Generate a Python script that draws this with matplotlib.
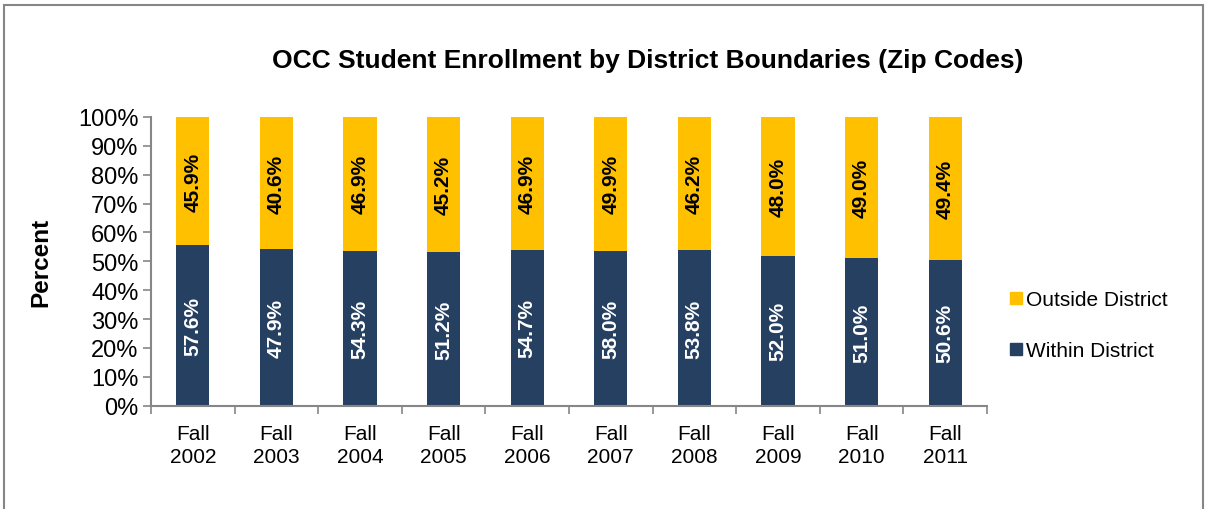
import matplotlib
matplotlib.use("Agg")
import matplotlib.pyplot as plt
import numpy as np
from matplotlib.patches import Rectangle
from matplotlib.lines import Line2D

plt.rcParams['font.family'] = ['Liberation Sans', 'DejaVu Sans']

categories = ["Fall\n2002", "Fall\n2003", "Fall\n2004", "Fall\n2005", "Fall\n2006",
              "Fall\n2007", "Fall\n2008", "Fall\n2009", "Fall\n2010", "Fall\n2011"]
within = [57.6, 47.9, 54.3, 51.2, 54.7, 58.0, 53.8, 52.0, 51.0, 50.6]
outside = [45.9, 40.6, 46.9, 45.2, 46.9, 49.9, 46.2, 48.0, 49.0, 49.4]
yticks = [0, 10, 20, 30, 40, 50, 60, 70, 80, 90, 100]

navy = '#264061'
gold = '#FFC000'
gray = '#868686'

fig = plt.figure(figsize=(12.05, 5.1), dpi=100)
ax = fig.add_axes([151/1205, 1 - 406.7/510, (987-151)/1205, (406.7-118)/510])

w = np.array(within)
o = np.array(outside)
tot = w + o
wp = w / tot * 100
op = o / tot * 100
x = np.arange(len(categories))
bw = 0.395
ax.bar(x, wp, bw, color=navy, label='Within District', zorder=2)
ax.bar(x, op, bw, bottom=wp, color=gold, label='Outside District', zorder=2)

for i in range(len(x)):
    ax.text(x[i], wp[i] / 2, f"{within[i]:.1f}%", rotation=90, ha='center', va='center',
            color='white', fontsize=15, fontweight='bold', zorder=3)
    ax.text(x[i], wp[i] + op[i] / 2, f"{outside[i]:.1f}%", rotation=90, ha='center', va='center',
            color='black', fontsize=15, fontweight='bold', zorder=3)

ax.set_xlim(-0.5, len(x) - 0.5)
ax.set_ylim(0, 100)
ax.set_yticks(yticks)
ax.set_yticklabels([f"{t}%" for t in yticks], fontsize=17)
ax.set_xticks(x)
ax.set_xticklabels(categories, fontsize=15, linespacing=1.25)
ax.set_xticks(np.arange(-0.5, len(x), 1.0), minor=True)
ax.tick_params(axis='x', which='major', length=0, pad=13)
ax.tick_params(axis='x', which='minor', length=6, width=1.2, color=gray, direction='out')
ax.tick_params(axis='y', which='major', length=6, width=1.2, color=gray, direction='out', pad=3)
for s in ['top', 'right']:
    ax.spines[s].set_visible(False)
for s in ['left', 'bottom']:
    ax.spines[s].set_color(gray)
    ax.spines[s].set_linewidth(1.5)

ax.set_ylabel("Percent", fontsize=17.5, fontweight='bold')
ax.yaxis.set_label_coords((52 - 151) / 836, 0.5)

fig.text(648/1205, 1 - 61/510, "OCC Student Enrollment by District Boundaries (Zip Codes)",
         ha='center', va='center', fontsize=19, fontweight='bold')

handles = [Line2D([], [], marker='s', linestyle='none', markersize=9, color=gold),
           Line2D([], [], marker='s', linestyle='none', markersize=9, color=navy)]
fig.legend(handles, ['Outside District', 'Within District'], loc='center left',
           bbox_to_anchor=(991/1205, 1 - 326/510), frameon=False, fontsize=15,
           handlelength=0.6, handletextpad=0.2, labelspacing=1.55)

fig.patches.append(Rectangle((4/1205, -0.05), (1203-4)/1205, 1 - 6/510 + 0.05,
                             transform=fig.transFigure, fill=False, edgecolor=gray, linewidth=1.5))

fig.savefig("out.png", dpi=100)
